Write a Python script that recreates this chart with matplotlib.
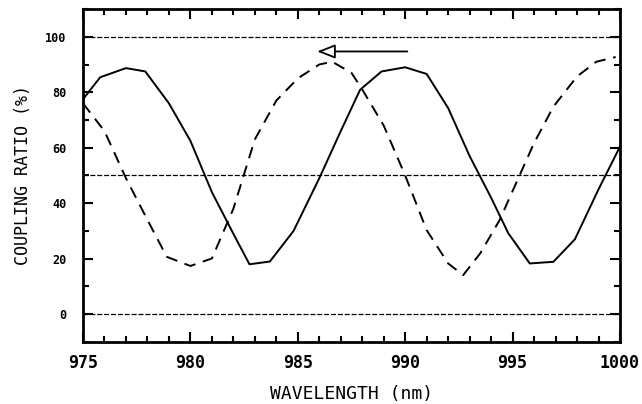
import matplotlib
matplotlib.use("Agg")
import matplotlib.pyplot as plt
from matplotlib.ticker import MultipleLocator

# solid curve
solid_x = [975.0, 975.8, 977.0, 977.9, 979.0, 980.0, 981.0, 982.0, 982.75, 983.7,
           984.8, 986.0, 987.0, 987.9, 988.9, 990.0, 991.0, 992.0, 993.0, 994.0,
           994.8, 995.8, 996.9, 997.9, 999.0, 1000.0]
solid_y = [77.5, 85.4, 88.7, 87.5, 76.0, 62.5, 44.0, 29.0, 18.0, 19.0,
           30.0, 49.0, 66.0, 80.9, 87.5, 89.0, 86.6, 74.3, 57.0, 42.0,
           29.2, 18.3, 18.9, 27.0, 45.0, 60.4]

# dashed curve
dash_x = [975.0, 976.0, 977.0, 978.0, 978.9, 980.0, 981.0, 982.0, 983.0, 984.0,
          985.0, 986.0, 986.6, 987.5, 988.0, 989.0, 990.0, 991.0, 992.0, 992.7,
          993.5, 994.4, 995.3, 996.0, 996.9, 998.0, 998.9, 999.8]
dash_y = [76.0, 66.0, 49.0, 34.0, 20.7, 17.4, 20.1, 38.0, 63.0, 77.0,
          85.0, 90.0, 91.0, 87.0, 81.0, 68.0, 50.0, 30.3, 18.3, 14.1,
          22.0, 34.0, 49.6, 61.7, 74.8, 85.7, 91.0, 92.7]

ref_levels = [0, 50, 100]
arrow_start = (990.1, 94.7)
arrow_end = (985.9, 94.7)

fig = plt.figure(figsize=(6.42, 4.04), dpi=100)
ax = fig.add_axes([0.1293, 0.1535, 0.8364, 0.8242])

for lvl in ref_levels:
    ax.axhline(lvl, color="black", lw=0.9, ls=(0, (4, 1.5)))

ax.plot(solid_x, solid_y, color="black", lw=1.4)
ax.plot(dash_x, dash_y, color="black", lw=1.4, ls=(0, (6, 4)))

# open-headed arrow pointing left
ax.annotate("", xy=arrow_end, xytext=arrow_start,
            arrowprops=dict(arrowstyle="-|>,head_length=1.1,head_width=0.43",
                            fc="white", ec="black", lw=1.3, shrinkA=0, shrinkB=0))

ax.set_xlim(975, 1000)
ax.set_ylim(-10, 110)
ax.xaxis.set_major_locator(MultipleLocator(5))
ax.xaxis.set_minor_locator(MultipleLocator(1))
ax.yaxis.set_major_locator(MultipleLocator(20))
ax.yaxis.set_minor_locator(MultipleLocator(10))
ax.set_yticks([0, 20, 40, 60, 80, 100])

ax.tick_params(which="both", direction="in", top=True, right=True, width=1.5)
ax.tick_params(which="major", length=7)
ax.tick_params(which="minor", length=4)
ax.tick_params(axis="x", labelsize=12, pad=9)
ax.tick_params(axis="y", labelsize=8.5, pad=12)
for lab in ax.get_xticklabels() + ax.get_yticklabels():
    lab.set_family("DejaVu Sans Mono")
    lab.set_fontweight("bold")

for sp in ax.spines.values():
    sp.set_linewidth(2)

ax.set_xlabel("WAVELENGTH (nm)", family="DejaVu Sans Mono", fontsize=13, labelpad=9)
ax.set_ylabel("COUPLING RATIO (%)", family="DejaVu Sans Mono", fontsize=12, labelpad=9)

fig.savefig("out.png", dpi=100)
